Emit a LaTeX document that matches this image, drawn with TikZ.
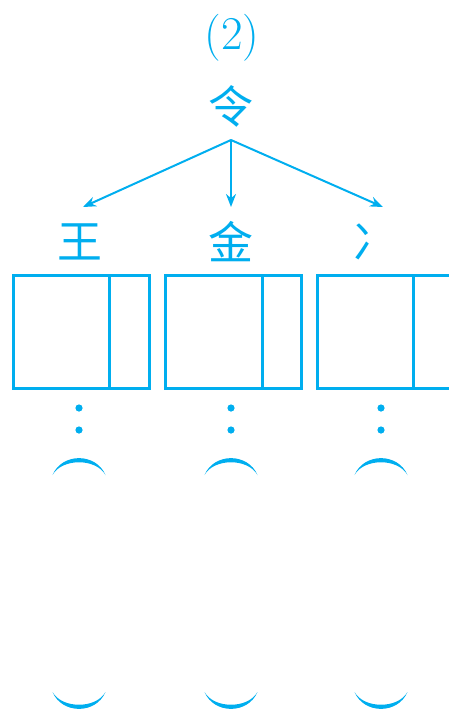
\documentclass[tikz,border=0pt]{standalone}
\usepackage{fontspec}
\newfontfamily\cjk{Noto Sans CJK SC}
\usetikzlibrary{arrows.meta}
\definecolor{cy}{RGB}{0,174,239}
\begin{document}
\begin{tikzpicture}[x=1pt,y=-1pt,
  box/.style={draw=cy,line width=3pt,minimum width=136pt,minimum height=113pt,inner sep=0pt,anchor=north west},
  hanzi/.style={text=cy,font=\cjk\fontsize{45}{48}\selectfont,inner sep=0pt},
  arr/.style={draw=cy,line width=2pt,-{Stealth[length=13pt,width=10pt]}},
  dotf/.style={fill=cy},
  cres/.style={fill=cy}]
\useasboundingbox (0,0) rectangle (449,713);
\clip (0,0) rectangle (449,713);
\node[text=cy,font=\fontsize{47}{50}\selectfont,inner sep=0pt] (num) at (232,38) {(2)};
\node[hanzi] (root) at (231,106) {令};
\coordinate (fork) at (231,140);
\coordinate (t1) at (83,207);
\coordinate (t2) at (231,207);
\coordinate (t3) at (383,207);
\node[hanzi] (l1) at (80,242) {王};
\node[hanzi] (l2) at (231,242) {金};
\node[hanzi] (l3) at (375,242) {冫};
\draw[arr] (fork) -- (t1);
\draw[arr] (fork) -- (t2);
\draw[arr] (fork) -- (t3);
\foreach \i/\x/\cx in {1/11.5/79, 2/164/231, 3/315.5/381}{
  \node[box] (b\i) at (\x,274) {};
  \draw[cy,line width=3pt] ([xshift=98pt]b\i.north west) -- ([xshift=98pt]b\i.south west);
  \fill[dotf] (\cx,408) circle (3.6pt);
  \fill[dotf] (\cx,430) circle (3.6pt);
  \fill[cres] (\cx-26.5,475) .. controls (\cx-17,452.5) and (\cx+17,452.5) .. (\cx+26.5,475)
     .. controls (\cx+17,458) and (\cx-17,458) .. cycle;
  \fill[cres] (\cx-26.5,692) .. controls (\cx-17,714.5) and (\cx+17,714.5) .. (\cx+26.5,692)
     .. controls (\cx+17,709) and (\cx-17,709) .. cycle;
}
\end{tikzpicture}
\end{document}
